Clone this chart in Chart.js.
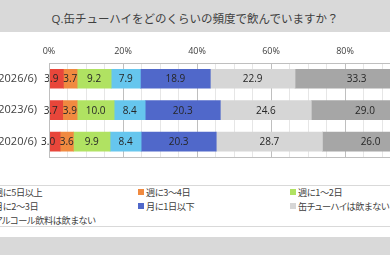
<!DOCTYPE html>
<html><head><meta charset="utf-8">
<script src="https://cdn.jsdelivr.net/npm/chart.js@4/dist/chart.umd.min.js"></script>
<style>
html,body{margin:0;padding:0;width:390px;height:260px;overflow:hidden;background:#fff;}
body{position:relative;font-family:"Open Sans","Noto Sans CJK JP",sans-serif;color:#404040;}
#title{position:absolute;left:0;top:0;width:390px;height:32px;box-sizing:border-box;padding-top:5px;line-height:27px;background:#d9d9d9;font-size:11.5px;text-align:center;white-space:nowrap;}
#cv{position:absolute;left:0;top:34px;}
#legend{position:absolute;left:-14px;top:185px;width:420px;height:41px;box-sizing:border-box;}
#legendLines{position:absolute;left:0;top:185px;width:390px;height:42px;box-sizing:border-box;border-top:1px solid #d9d9d9;border-bottom:1px solid #d9d9d9;}
#legend .grid{display:grid;grid-template-columns:repeat(3,152px);grid-auto-rows:14px;font-size:9.2px;white-space:nowrap;font-family:"Noto Sans CJK JP",sans-serif;font-feature-settings:"palt" 1;letter-spacing:-0.4px;}
#legend .it{display:flex;align-items:center;}
#legend .sw{width:6px;height:6px;margin-right:2px;flex:none;}
#band{position:absolute;left:0;top:237px;width:390px;height:18px;background:#d9d9d9;}
</style></head>
<body>
<div id="title">Q.缶チューハイをどのくらいの頻度で飲んでいますか？</div>
<canvas id="cv" width="450" height="142"></canvas>
<div id="legendLines"></div>
<div id="legend"><div class="grid" id="lg"></div></div>
<div id="band"></div>
<script>
const categories = ["(2026/6)", "(2023/6)", "(2020/6)"];
const xTicks = [0, 20, 40, 60, 80, 100];
const seriesNames = ["週に5日以上", "週に3～4日", "週に1～2日", "月に2～3日", "月に1日以下", "缶チューハイは飲まない", "アルコール飲料は飲まない"];
const seriesColors = ["#e8463a", "#f08a40", "#b0e262", "#66c6ee", "#5068ca", "#d6d6d6", "#a6a6a6"];
const week5 = [3.9, 3.7, 3.0];
const week34 = [3.7, 3.9, 3.6];
const week12 = [9.2, 10.0, 9.9];
const month23 = [7.9, 8.4, 8.4];
const month1 = [18.9, 20.3, 20.3];
const noChuhai = [22.9, 24.6, 28.7];
const noAlcohol = [33.3, 29.0, 26.0];
const seriesValues = [week5, week34, week12, month23, month1, noChuhai, noAlcohol];

const FONT = '"Open Sans","Noto Sans CJK JP",sans-serif';

function lighten(hex, f){
  const n = parseInt(hex.slice(1),16);
  let r=(n>>16)&255,g=(n>>8)&255,b=n&255;
  r=Math.round(r+(255-r)*f);g=Math.round(g+(255-g)*f);b=Math.round(b+(255-b)*f);
  return `rgb(${r},${g},${b})`;
}
function darken(hex, f){
  const n = parseInt(hex.slice(1),16);
  let r=(n>>16)&255,g=(n>>8)&255,b=n&255;
  return `rgb(${Math.round(r*(1-f))},${Math.round(g*(1-f))},${Math.round(b*(1-f))})`;
}

function barFill(color){
  return (c) => {
    const chart = c.chart;
    const el = c.element;
    if (!chart.chartArea || !el || el.height === undefined || !isFinite(el.y)) return color;
    const h = el.height || 19;
    const g = chart.ctx.createLinearGradient(0, el.y - h/2, 0, el.y + h/2);
    g.addColorStop(0, lighten(color, 0.18));
    g.addColorStop(1, darken(color, 0.04));
    return g;
  };
}

const plotFrame = {
  id: 'plotFrame',
  afterDraw(chart){
    const {ctx, chartArea:a} = chart;
    ctx.save();
    ctx.strokeStyle = '#bfbfbf';
    ctx.lineWidth = 1;
    ctx.strokeRect(Math.round(a.left)+0.5, Math.round(a.top)+0.5, Math.round(a.right-a.left), Math.round(a.bottom-a.top));
    ctx.restore();
  }
};
const valueLabels = {
  id: 'valueLabels',
  afterDatasetsDraw(chart){
    const ctx = chart.ctx;
    ctx.save();
    ctx.font = '10px ' + FONT;
    ctx.fillStyle = '#262626';
    ctx.textBaseline = 'middle';
    chart.data.datasets.forEach((ds, i) => {
      const meta = chart.getDatasetMeta(i);
      meta.data.forEach((el, j) => {
        const txt = ds.data[j].toFixed(1);
        if (i === 0) {
          ctx.textAlign = 'right';
          ctx.fillText(txt, el.x - 5, el.y + 0.5);
        } else {
          ctx.textAlign = 'center';
          ctx.fillText(txt, (el.x + el.base)/2, el.y + 0.5);
        }
      });
    });
    ctx.restore();
  }
};

const chart = new Chart(document.getElementById('cv'), {
  type: 'bar',
  data: {
    labels: categories,
    datasets: seriesNames.map((name, i) => ({
      label: name,
      data: seriesValues[i],
      backgroundColor: barFill(seriesColors[i]),
      borderWidth: 0,
      barThickness: 19
    }))
  },
  options: {
    indexAxis: 'y',
    responsive: false,
    animation: false,
    devicePixelRatio: 1,
    layout: { padding: { left: 0, right: 31, top: 0, bottom: 2 } },
    plugins: { legend: { display: false }, title: { display: false }, tooltip: { enabled: false } },
    scales: {
      x: {
        position: 'top',
        stacked: true,
        min: 0, max: 100,
        afterFit(s){ s.height = 29; },
        afterBuildTicks(s){
          const t = [];
          for (let v = 0; v <= 100; v += 5) t.push({ value: v });
          s.ticks = t;
        },
        ticks: {
          autoSkip: false, maxRotation: 0, padding: 6,
          color: '#404040', font: { size: 9, family: FONT },
          callback: (v) => xTicks.includes(v) ? v + '%' : ''
        },
        grid: {
          drawTicks: false,
          color: (c) => (c.tick && xTicks.includes(c.tick.value)) ? '#bfbfbf' : '#e6e6e6'
        },
        border: { display: false }
      },
      y: {
        stacked: true,
        afterFit(s){ s.width = 49; },
        ticks: { padding: 12, color: '#404040', font: { size: 11, family: FONT } },
        grid: { display: false, drawTicks: false },
        border: { display: false }
      }
    }
  },
  plugins: [plotFrame, valueLabels]
});

const lg = document.getElementById('lg');
seriesNames.forEach((n, i) => {
  const d = document.createElement('div');
  d.className = 'it';
  const s = document.createElement('span');
  s.className = 'sw';
  s.style.background = seriesColors[i];
  const t = document.createElement('span');
  t.textContent = n;
  d.appendChild(s); d.appendChild(t);
  lg.appendChild(d);
});
</script>
</body></html>
